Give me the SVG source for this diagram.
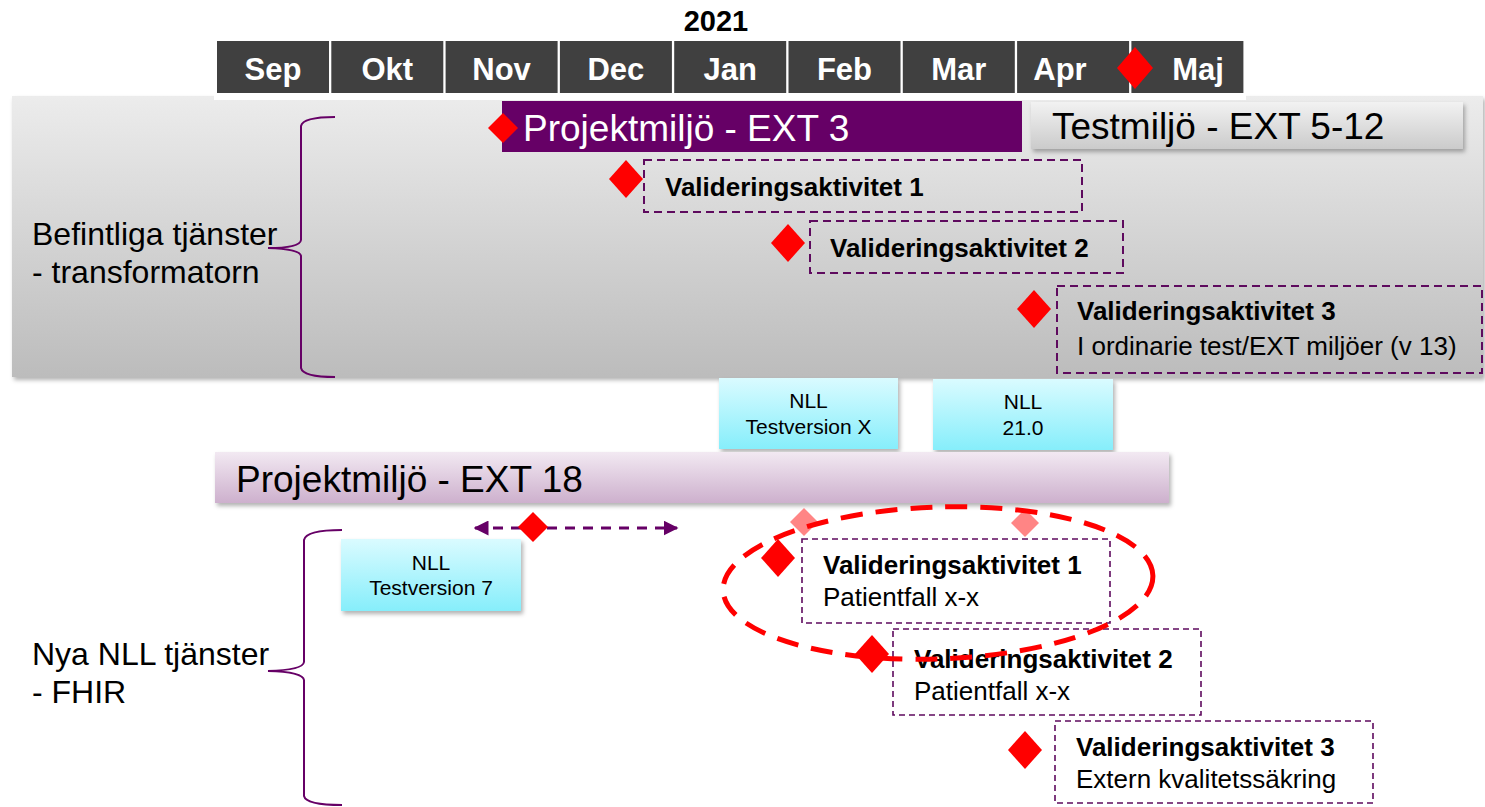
<svg xmlns="http://www.w3.org/2000/svg" xmlns:xlink="http://www.w3.org/1999/xlink" width="1485" height="807" viewBox="0 0 1485 807">
<style>
text{font-family:"Liberation Sans",Arial,sans-serif;fill:#000}
.month{font-size:31px;font-weight:bold;fill:#fff;text-anchor:middle}
.cell{fill:#404040}
.big{font-size:37px}
.lab{font-size:32px}
.vb{font-size:26px;font-weight:bold}
.vr{font-size:26px}
.nll{font-size:21px;text-anchor:middle}
.vbox{fill:none;stroke:#5e0a5e;stroke-width:2;stroke-dasharray:8 5}
.vbox2{fill:none;stroke:#5e0a5e;stroke-width:1.6;stroke-dasharray:6 4}
.brace{fill:none;stroke:#660066;stroke-width:2}
.dia{fill:#ff0000}
.pale{fill:#ff8585}
</style>
<defs>
<linearGradient id="gBand" x1="0" y1="0" x2="0" y2="1"><stop offset="0" stop-color="#ececec"/><stop offset="1" stop-color="#bcbcbc"/></linearGradient>
<linearGradient id="gTest" x1="0" y1="0" x2="0" y2="1"><stop offset="0" stop-color="#f2f2f2"/><stop offset="1" stop-color="#cbcbcb"/></linearGradient>
<linearGradient id="gNll" x1="0" y1="0" x2="0" y2="1"><stop offset="0" stop-color="#dafbff"/><stop offset="1" stop-color="#86eefb"/></linearGradient>
<linearGradient id="gExt" x1="0" y1="0" x2="0" y2="1"><stop offset="0" stop-color="#f2e9f2"/><stop offset="1" stop-color="#cdb0cd"/></linearGradient>
<filter id="sh" x="-5%" y="-20%" width="110%" height="150%"><feDropShadow dx="2" dy="3" stdDeviation="2" flood-color="#000" flood-opacity="0.3"/></filter>
<path id="dia" d="M0,-19 L17,0 L0,19 L-17,0Z"/>
<path id="diaS" d="M0,-15 L15,0 L0,15 L-15,0Z"/>
<marker id="ah" viewBox="0 0 10 10" refX="9" refY="5" markerWidth="5" markerHeight="5" orient="auto-start-reverse"><path d="M0,0 L10,5 L0,10Z" fill="#660066"/></marker>
</defs>
<rect width="1485" height="807" fill="#fff"/>

<g id="band-befintliga">
<rect x="12" y="96" width="1471" height="281" fill="url(#gBand)" filter="url(#sh)"/>
<text class="lab" x="32" y="245">Befintliga tjänster</text>
<text class="lab" x="32" y="283">- transformatorn</text>
<path class="brace" d="M335,117 Q303,117 301,126 L301,240 Q300,248 268,248 Q300,249 301,256 L301,368 Q303,377 335,377"/>
</g>

<g id="header">
<rect x="214" y="36" width="1032" height="64" fill="#fff"/>
<text x="716" y="31" style="font-size:29px;font-weight:bold;text-anchor:middle">2021</text>
<rect class="cell" x="217" y="41" width="112" height="52"/>
<rect class="cell" x="331.3" y="41" width="112" height="52"/>
<rect class="cell" x="445.6" y="41" width="112" height="52"/>
<rect class="cell" x="559.9" y="41" width="112" height="52"/>
<rect class="cell" x="674.2" y="41" width="112" height="52"/>
<rect class="cell" x="788.5" y="41" width="112" height="52"/>
<rect class="cell" x="902.8" y="41" width="112" height="52"/>
<rect class="cell" x="1017.1" y="41" width="112" height="52"/>
<rect class="cell" x="1131.4" y="41" width="112" height="52"/>
<text class="month" x="273" y="80">Sep</text>
<text class="month" x="387.3" y="80">Okt</text>
<text class="month" x="501.6" y="80">Nov</text>
<text class="month" x="615.9" y="80">Dec</text>
<text class="month" x="730.2" y="80">Jan</text>
<text class="month" x="844.5" y="80">Feb</text>
<text class="month" x="958.8" y="80">Mar</text>
<text class="month" x="1060" y="80">Apr</text>
<text class="month" x="1198" y="80">Maj</text>
<path class="dia" d="M1135,47 L1153,68 L1135,89 L1117,68Z"/>
</g>

<g id="ext3">
<rect x="502" y="101" width="520" height="51" fill="#660066"/>
<text class="big" x="523" y="141" style="fill:#fff">Projektmiljö - EXT 3</text>
<use href="#diaS" x="503" y="128" class="dia"/>
</g>

<g id="testmiljo">
<rect x="1031" y="102" width="432" height="47" fill="url(#gTest)" filter="url(#sh)"/>
<text class="big" x="1052" y="139">Testmiljö - EXT 5-12</text>
</g>

<g id="val1-top">
<rect class="vbox" x="644" y="160" width="438" height="52"/>
<use href="#dia" x="626" y="179" class="dia"/>
<text class="vb" x="665" y="196">Valideringsaktivitet 1</text>
</g>
<g id="val2-top">
<rect class="vbox" x="810" y="221" width="313" height="52"/>
<use href="#dia" x="788" y="243" class="dia"/>
<text class="vb" x="830" y="257">Valideringsaktivitet 2</text>
</g>
<g id="val3-top">
<rect class="vbox" x="1057" y="286" width="425" height="87"/>
<use href="#dia" x="1034" y="309" class="dia"/>
<text class="vb" x="1077" y="320">Valideringsaktivitet 3</text>
<text class="vr" x="1077" y="355">I ordinarie test/EXT miljöer (v 13)</text>
</g>

<g id="nll-x">
<rect x="719" y="378" width="179" height="71" fill="url(#gNll)" filter="url(#sh)"/>
<text class="nll" x="808.5" y="408">NLL</text>
<text class="nll" x="808.5" y="434">Testversion X</text>
</g>
<g id="nll-21">
<rect x="933" y="379" width="180" height="71" fill="url(#gNll)" filter="url(#sh)"/>
<text class="nll" x="1023" y="409">NLL</text>
<text class="nll" x="1023" y="435">21.0</text>
</g>

<g id="ext18">
<rect x="215" y="452" width="954" height="51" fill="url(#gExt)" filter="url(#sh)"/>
<text class="big" x="236" y="492">Projektmiljö - EXT 18</text>
</g>

<g id="nya">
<text class="lab" x="32" y="665">Nya NLL tjänster</text>
<text class="lab" x="32" y="703">- FHIR</text>
<path class="brace" d="M342,530 Q306,530 304,540 L304,662 Q303,670 268,671 Q303,672 304,680 L304,796 Q306,805 342,805"/>
</g>

<g id="nll-7">
<rect x="341" y="539" width="180" height="72" fill="url(#gNll)" filter="url(#sh)"/>
<text class="nll" x="431" y="570">NLL</text>
<text class="nll" x="431" y="595">Testversion 7</text>
</g>

<g id="connectors">
<line x1="475" y1="528" x2="677" y2="528" stroke="#660066" stroke-width="3" stroke-dasharray="10 8" marker-start="url(#ah)" marker-end="url(#ah)"/>
</g>
<g id="milestone-arrow">
<use href="#diaS" x="533" y="527" class="dia"/>
</g>

<g id="pale-markers">
<path class="pale" d="M804,508 L818,522 L804,536 L790,522Z"/>
<path class="pale" d="M1025,509 L1039,523 L1025,537 L1011,523Z"/>
</g>

<g id="val1-low">
<rect class="vbox2" x="802" y="539" width="308" height="84"/>
<use href="#dia" x="778" y="558" class="dia"/>
<text class="vb" x="823" y="574">Valideringsaktivitet 1</text>
<text class="vr" x="823" y="606">Patientfall x-x</text>
</g>
<g id="val2-low">
<rect class="vbox2" x="893" y="629" width="308" height="86"/>
<use href="#dia" x="872" y="654" class="dia"/>
<text class="vb" x="914" y="668">Valideringsaktivitet 2</text>
<text class="vr" x="914" y="700">Patientfall x-x</text>
</g>
<g id="val3-low">
<rect class="vbox2" x="1055" y="721" width="318" height="82"/>
<use href="#dia" x="1025" y="750" class="dia"/>
<text class="vb" x="1076" y="756">Valideringsaktivitet 3</text>
<text class="vr" x="1076" y="788">Extern kvalitetssäkring</text>
</g>

<g id="highlight">
<ellipse cx="938" cy="583" rx="215" ry="76" fill="none" stroke="#ff0000" stroke-width="5" stroke-dasharray="22 13" transform="rotate(-2 938 583)"/>
</g>
</svg>
